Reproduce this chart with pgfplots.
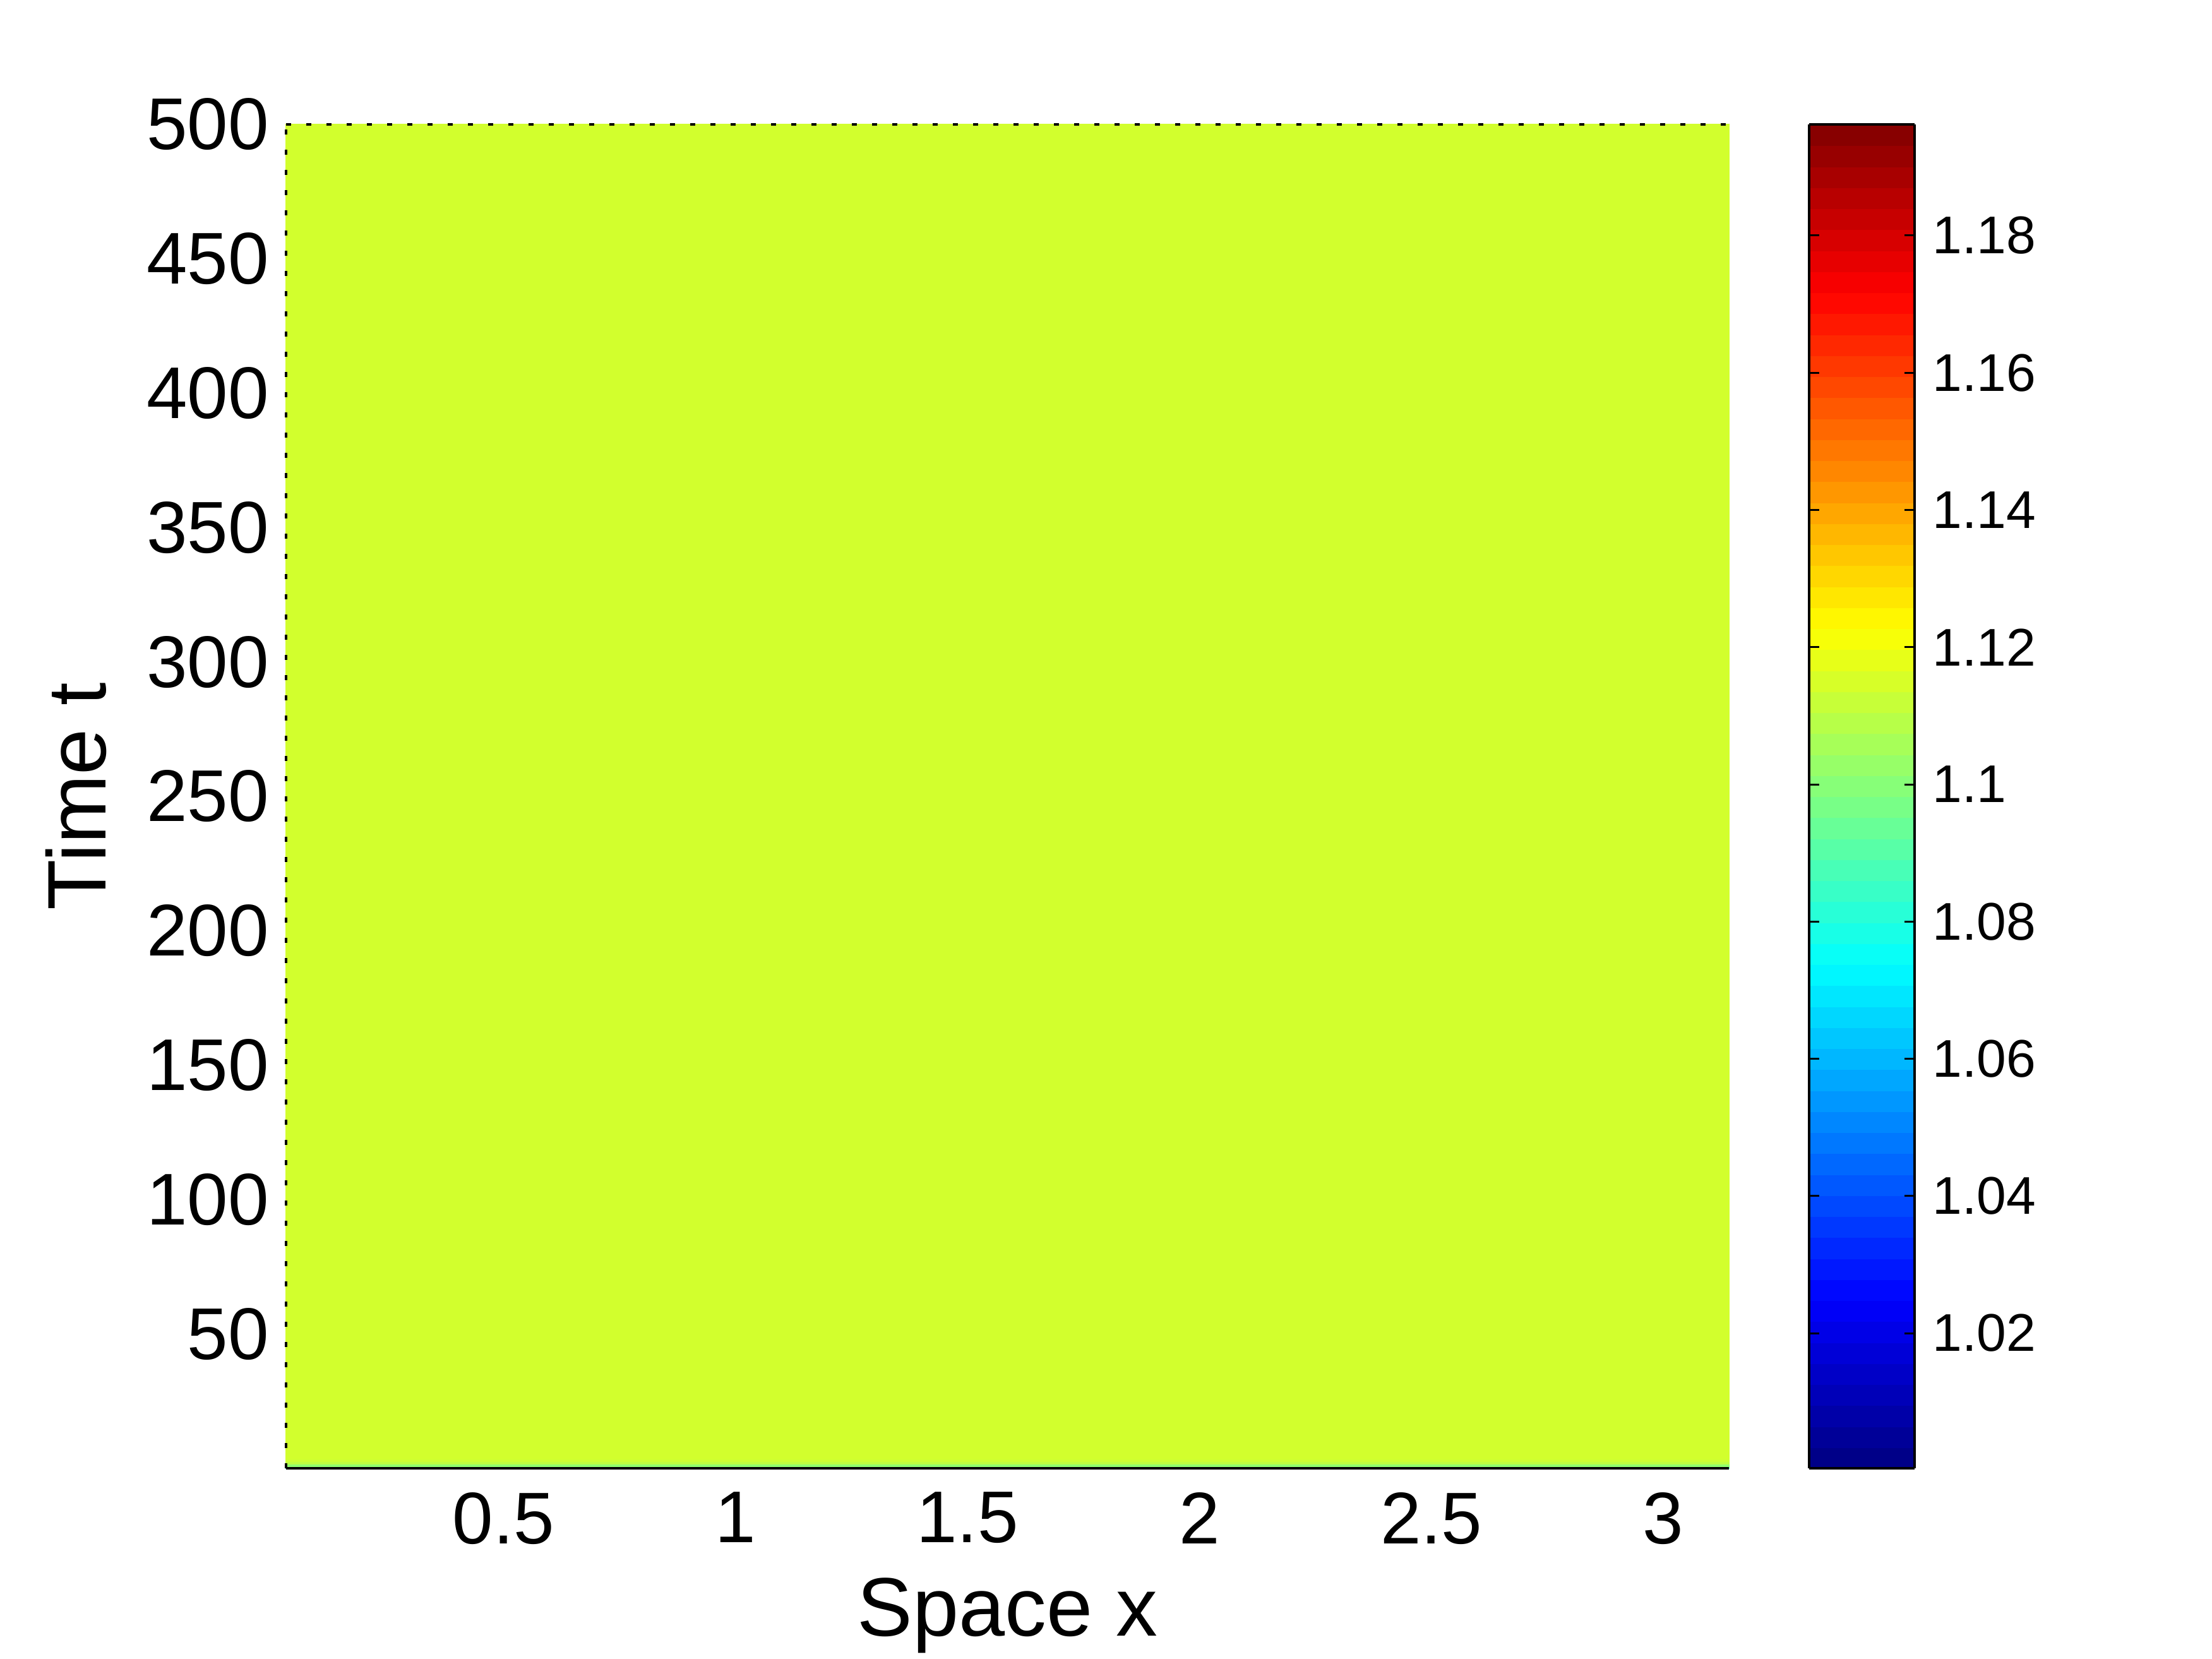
\documentclass[border=0pt]{standalone}
\usepackage{fontspec}
\setmainfont{Liberation Sans}
\usepackage{pgfplots}
\pgfplotsset{compat=1.18}
\begin{document}
\begin{tikzpicture}
\begin{axis}[
  name=main,
  scale only axis,
  width=457pt, height=425.6pt,
  xmin=0.0314159, xmax=3.14159,
  ymin=0, ymax=500,
  xtick={0.5,1,1.5,2,2.5,3},
  ytick={50,100,150,200,250,300,350,400,450,500},
  axis line style={draw=none},
  major tick length=0pt,
  tick style={draw=none},
  clip=false,
  /pgf/number format/assume math mode=true,
  tick label style={font=\fontsize{23.2}{27}\selectfont, inner sep=0pt},
  xticklabel style={yshift=-7.4pt},
  yticklabel style={xshift=-5.2pt},
  xlabel={Space x},
  ylabel={Time t},
  xlabel style={font=\fontsize{26.3}{30}\selectfont, at={(axis description cs:0.5,-0.0813)}, anchor=north, inner sep=0pt},
  ylabel style={font=\fontsize{26.3}{30}\selectfont, at={(axis description cs:-0.1238,0.5)}, anchor=south, inner sep=0pt},
  colormap/jet,
  point meta min=1.0003, point meta max=1.1962,
  colorbar sampled,
  colorbar style={
    at={(parent axis.north east)}, anchor=north west, xshift=16.8pt,
    scale only axis,
    width=33.4pt, height=425.6pt,
    samples=65,
    ytick={1.02,1.04,1.06,1.08,1.1,1.12,1.14,1.16,1.18},
    ytick pos=both,
    yticklabel pos=right,
    tick align=inside,
    major tick length=3.2pt,
    tick style={draw=black, line width=0.6pt},
    axis line style={draw=black, line width=0.8pt},
    /pgf/number format/assume math mode=true,
    yticklabel style={font=\fontsize{16.8}{20}\selectfont, inner sep=0pt, xshift=5.6pt},
  },
]
\addplot[surf, shader=flat mean, point meta=explicit, mesh/cols=2, mesh/rows=6]
  table [x=x, y=y, meta=c] {
x y c
0.0314159 0 1.075
3.14159 0 1.075
0.0314159 0.8 1.095
3.14159 0.8 1.095
0.0314159 1.6 1.108
3.14159 1.6 1.108
0.0314159 2.6 1.112
3.14159 2.6 1.112
0.0314159 3.6 1.1141
3.14159 3.6 1.1141
0.0314159 500 1.1141
3.14159 500 1.1141
};
\draw[line width=0.8pt, black] (rel axis cs:0,0) -- (rel axis cs:1,0);
\draw[line width=0.7pt, black, dash pattern=on 1.6pt off 4.8pt] (rel axis cs:0,0) -- (rel axis cs:0,1);
\draw[line width=0.7pt, black, dash pattern=on 1.6pt off 4.8pt] (rel axis cs:0,1) -- (rel axis cs:1,1);
\end{axis}
\path[use as bounding box] ([shift={(-90.6pt,-60.2pt)}]main.south west) rectangle ([shift={(610pt,465pt)}]main.south west);
\end{tikzpicture}
\end{document}
